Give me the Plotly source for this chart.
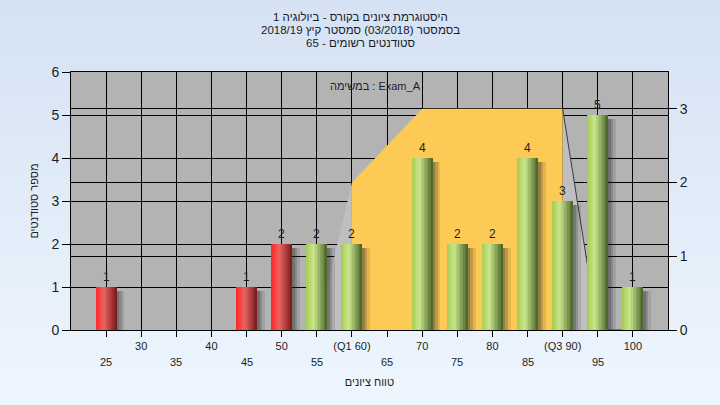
import plotly.graph_objects as go

# ---------------- data ----------------
grades = [25, 30, 35, 40, 45, 50, 55, 60, 65, 70, 75, 80, 85, 90, 95, 100]
counts = [1, 0, 0, 0, 1, 2, 2, 2, 0, 4, 2, 2, 4, 3, 5, 1]
pass_grade = 55
q1 = 60
q3 = 90
# box-like area on the right axis
area_x = [55, 60, 70, 90, 95, 100]
area_y = [0, 2, 3, 3, 0, 0]

title_lines = [
    "היסטוגרמת ציונים בקורס - ביולוגיה 1",
    "בסמסטר (03/2018) סמסטר קיץ 2018/19",
    "סטודנטים רשומים - 65",
]
legend_text = "במשימה : Exam_A"
x_title = "טווח ציונים"
y_title = "מספר סטודנטים"

# ---------------- style ----------------
FONT = "Liberation Sans, Arial, sans-serif"
W, H = 720, 405
ML, MR, MT, MB = 71, 52, 72, 75
PW, PH = W - ML - MR, H - MT - MB
BAR_W = 3.0
N_SLICES = 14


def lerp(c1, c2, t):
    return tuple(int(round(a + (b - a) * t)) for a, b in zip(c1, c2))


def profile(stops, t):
    for (t0, c0), (t1, c1) in zip(stops, stops[1:]):
        if t0 <= t <= t1:
            return lerp(c0, c1, (t - t0) / (t1 - t0) if t1 > t0 else 0)
    return stops[-1][1]


red_stops = [(0.0, (255, 38, 38)), (0.38, (234, 100, 100)), (1.0, (120, 24, 24))]
green_stops = [(0.0, (164, 205, 78)), (0.36, (202, 230, 142)), (1.0, (72, 98, 38))]

fig = go.Figure()

# ---------------- background gradient (shapes) ----------------
shapes = []
top_c, bot_c = (213, 226, 243), (238, 246, 254)
n_strips = 40
px0, px1 = -ML / PW, 1 + MR / PW
for i in range(n_strips):
    ya = 1 + MT / PH - (i / n_strips) * (H / PH)
    yb = 1 + MT / PH - ((i + 1) / n_strips) * (H / PH)
    c = lerp(top_c, bot_c, i / (n_strips - 1))
    shapes.append(dict(type="rect", xref="paper", yref="paper", x0=px0, x1=px1,
                       y0=yb - 0.002, y1=ya + 0.002, fillcolor="rgb(%d,%d,%d)" % c,
                       line=dict(width=0), layer="below"))
shapes.append(dict(type="rect", xref="paper", yref="paper", x0=0, x1=1, y0=0, y1=1,
                   fillcolor="#b3b3b3", line=dict(width=0), layer="below"))

# ---------------- area on right axis (main y) ----------------
light_left_x = [area_x[0], q1, q1]
light_left_y = [area_y[0], area_y[area_x.index(q1)], 0]
fig.add_trace(go.Scatter(x=light_left_x, y=light_left_y, fill="toself", mode="lines",
                         line=dict(width=0), fillcolor="#bfbfbf", yaxis="y",
                         hoverinfo="skip", showlegend=False))
i3 = area_x.index(q3)
light_right_x = [q3, area_x[i3 + 1], q3]
light_right_y = [area_y[i3], area_y[i3 + 1], 0]
fig.add_trace(go.Scatter(x=light_right_x, y=light_right_y, fill="toself", mode="lines",
                         line=dict(width=0), fillcolor="#bfbfbf", yaxis="y",
                         hoverinfo="skip", showlegend=False))
yel_x = [q1] + [x for x in area_x if q1 <= x <= q3] + [q3]
yel_y = [0] + [y for x, y in zip(area_x, area_y) if q1 <= x <= q3] + [0]
fig.add_trace(go.Scatter(x=yel_x, y=yel_y, fill="toself", mode="lines",
                         line=dict(width=0), fillcolor="#fdca56", yaxis="y",
                         hoverinfo="skip", showlegend=False))
fig.add_trace(go.Scatter(x=area_x[i3:], y=area_y[i3:], mode="lines",
                         line=dict(width=1, color="#3a3a3a"), yaxis="y",
                         hoverinfo="skip", showlegend=False))

# ---------------- bars on left axis (overlay y2) ----------------
is_red = [g < pass_grade for g in grades]
shadow_h = [max(c - 0.1, 0) for c in counts]
shadow_parts = [(0.0, 0.35, "rgba(30,30,30,0.45)"), (0.35, 0.35, "rgba(30,30,30,0.28)"),
                (0.7, 0.4, "rgba(30,30,30,0.12)")]
for off0, w0, col in shadow_parts:
    fig.add_trace(go.Bar(x=grades, y=shadow_h, width=w0, offset=BAR_W / 2 + off0,
                         marker=dict(color=col, line=dict(width=0)),
                         yaxis="y2", hoverinfo="skip", showlegend=False))
s = BAR_W / N_SLICES
for i in range(N_SLICES):
    t = (i + 0.5) / N_SLICES
    off = -BAR_W / 2 + i * s
    w = min(s * 1.6, BAR_W / 2 - off)
    cols = ["rgb(%d,%d,%d)" % profile(red_stops if r else green_stops, t) for r in is_red]
    fig.add_trace(go.Bar(x=grades, y=counts, width=w, offset=off,
                         marker=dict(color=cols, line=dict(width=0)),
                         yaxis="y2", hoverinfo="skip", showlegend=False))

# value labels above bars
annotations = []
for g, c in zip(grades, counts):
    if c > 0:
        annotations.append(dict(x=g, y=c, xref="x", yref="y2", yanchor="middle",
                                yshift=10, text=str(c), showarrow=False,
                                font=dict(size=12, color="#1e1e1e", family=FONT)))

# ---------------- tick labels ----------------
row1 = []
for i, g in enumerate(grades):
    if i % 2 == 1:
        if g == q1:
            row1.append("(Q1 %d)" % g)
        elif g == q3:
            row1.append("(Q3 %d)" % g)
        else:
            row1.append(str(g))
    else:
        row1.append("")

for i, g in enumerate(grades):
    if i % 2 == 0:
        annotations.append(dict(x=g, y=0, xref="x", yref="paper", yanchor="middle",
                                yshift=-32, text=str(g), showarrow=False,
                                font=dict(size=11, color="#1e1e1e", family=FONT)))
annotations.append(dict(x=(375 - ML) / PW, y=(MT + PH - 86) / PH, xref="paper", yref="paper",
                        text=legend_text, showarrow=False, xanchor="center", yanchor="middle",
                        font=dict(size=11, color="#1e1e1e", family=FONT)))

# title lines
for k, line in enumerate(title_lines):
    ypx = 17 + 13 * k
    annotations.append(dict(x=(360 - ML) / PW, y=(MT + PH - ypx) / PH, xref="paper", yref="paper",
                            text=line, showarrow=False, xanchor="center", yanchor="middle",
                            font=dict(size=11.5, color="#1a1a28", family=FONT)))

fig.update_layout(
    width=W, height=H,
    margin=dict(l=ML, r=MR, t=MT, b=MB),
    paper_bgcolor="#e3ecf8",
    plot_bgcolor="#b3b3b3",
    barmode="overlay",
    bargap=0,
    font=dict(family=FONT, color="#1e1e1e"),
    xaxis=dict(range=[20, 105], tickvals=grades, ticktext=row1, ticks="outside",
               ticklen=6, tickcolor="black", showline=True, linecolor="black",
               mirror=True, showgrid=True, gridcolor="black", gridwidth=1,
               zeroline=False, tickfont=dict(size=11, color="#1e1e1e"),
               title=dict(text=x_title, font=dict(size=11), standoff=27)),
    yaxis=dict(range=[0, 3.5], tickvals=[0, 1, 2, 3], side="right", ticks="outside",
               ticklen=8, tickcolor="black", showline=True, linecolor="black",
               showgrid=True, gridcolor="black", gridwidth=1, zeroline=False,
               tickfont=dict(size=14, color="#1e1e1e")),
    yaxis2=dict(range=[0, 6], dtick=1, overlaying="y", side="left", ticks="outside",
                ticklen=8, tickcolor="black", showline=True, linecolor="black",
                showgrid=True, gridcolor="black", gridwidth=1, zeroline=False,
                tickfont=dict(size=14, color="#1e1e1e"),
                title=dict(text=y_title, font=dict(size=11), standoff=10)),
    shapes=shapes,
    annotations=annotations,
)

fig.write_html("out.html", post_script="document.body.style.margin='0';",
               config={"displayModeBar": False})
